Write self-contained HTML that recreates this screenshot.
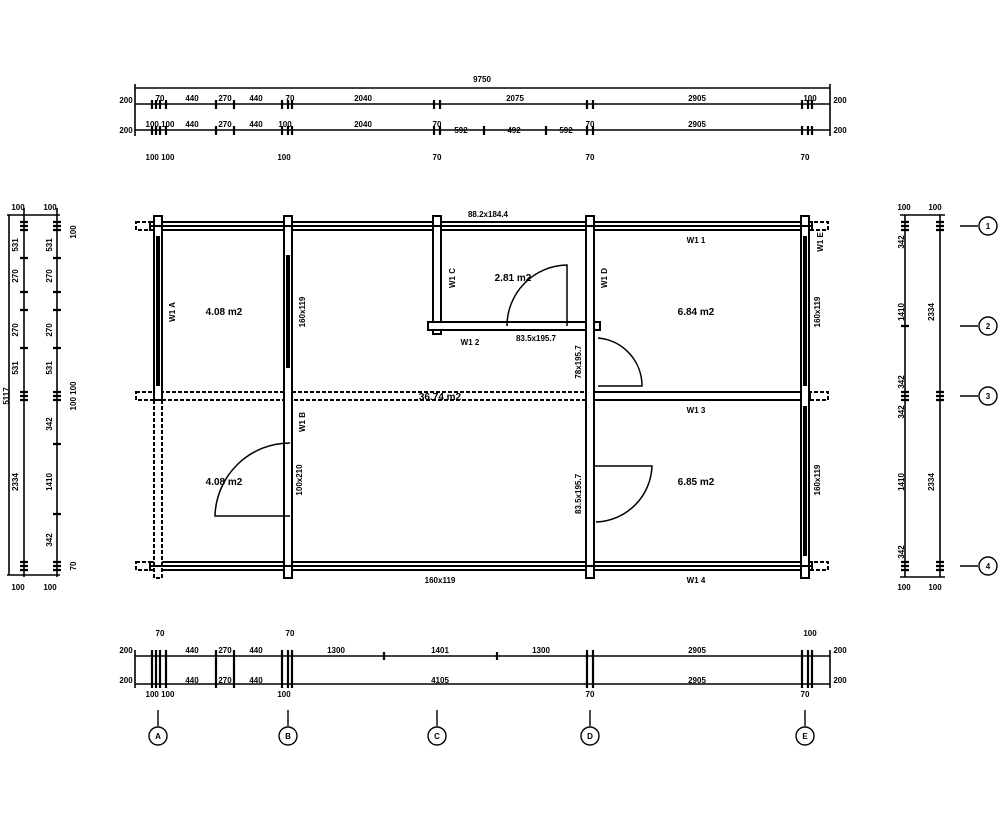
<!DOCTYPE html>
<html><head><style>body{margin:0;background:#fff}svg{display:block}</style></head><body>
<svg width="1000" height="833" viewBox="0 0 1000 833" xmlns="http://www.w3.org/2000/svg" font-family="Liberation Sans, sans-serif" font-size="8" font-weight="bold" fill="#000">
<g stroke="#000" stroke-width="1.6" fill="none">
<line x1="135" y1="88" x2="830" y2="88"/>
<line x1="135" y1="104" x2="830" y2="104"/>
<line x1="135" y1="130" x2="830" y2="130"/>
<line x1="135" y1="84" x2="135" y2="136"/><line x1="830" y1="84" x2="830" y2="136"/>
<line x1="135" y1="656" x2="830" y2="656"/>
<line x1="135" y1="684" x2="830" y2="684"/>
<line x1="135" y1="650" x2="135" y2="688"/><line x1="830" y1="650" x2="830" y2="688"/>
<line x1="9" y1="215" x2="9" y2="575"/>
<line x1="24" y1="208" x2="24" y2="577"/>
<line x1="57" y1="208" x2="57" y2="577"/>
<line x1="7" y1="215" x2="60" y2="215"/><line x1="7" y1="575" x2="60" y2="575"/>
<line x1="905" y1="215" x2="905" y2="577"/>
<line x1="940" y1="215" x2="940" y2="577"/>
<line x1="900" y1="215" x2="945" y2="215"/><line x1="900" y1="577" x2="945" y2="577"/>
</g>
<g stroke="#000" stroke-width="2.2">
<path d="M152 100v9M156 100v9M160 100v9M166 100v9M216 100v9M234 100v9M282 100v9M288 100v9M292 100v9M434 100v9M440 100v9M587 100v9M593 100v9M802 100v9M808 100v9M812 100v9"/>
<path d="M152 126v9M156 126v9M160 126v9M166 126v9M216 126v9M234 126v9M282 126v9M288 126v9M292 126v9M434 126v9M440 126v9M484 126v9M546 126v9M587 126v9M593 126v9M802 126v9M808 126v9M812 126v9"/>
<path d="M152 650v38M156 650v38M160 650v38M166 650v38M216 650v38M234 650v38M282 650v38M288 650v38M292 650v38M384 652v8M497 652v8M587 650v38M593 650v38M802 650v38M808 650v38M812 650v38"/>
<path d="M20 222h8M20 226h8M20 230h8M53 222h8M53 226h8M53 230h8M20 258h8M53 258h8M20 292h8M53 292h8M20 310h8M53 310h8M20 348h8M53 348h8M20 392h8M20 396h8M20 400h8M53 392h8M53 396h8M53 400h8M53 444h8M53 514h8M20 562h8M20 566h8M20 570h8M53 562h8M53 566h8M53 570h8"/>
<path d="M901 222h8M901 226h8M901 230h8M936 222h8M936 226h8M936 230h8M901 392h8M901 396h8M901 400h8M936 392h8M936 396h8M936 400h8M901 562h8M901 566h8M901 570h8M936 562h8M936 566h8M936 570h8M901 326h8"/>
</g>
<g stroke="#000" stroke-width="1.4" fill="none">
<line x1="158" y1="710" x2="158" y2="726"/><line x1="288" y1="710" x2="288" y2="726"/><line x1="437" y1="710" x2="437" y2="726"/><line x1="590" y1="710" x2="590" y2="726"/><line x1="805" y1="710" x2="805" y2="726"/>
<circle cx="158" cy="736" r="9"/><circle cx="288" cy="736" r="9"/><circle cx="437" cy="736" r="9"/><circle cx="590" cy="736" r="9"/><circle cx="805" cy="736" r="9"/>
<line x1="960" y1="226" x2="978" y2="226"/><line x1="960" y1="326" x2="978" y2="326"/><line x1="960" y1="396" x2="978" y2="396"/><line x1="960" y1="566" x2="978" y2="566"/>
<circle cx="988" cy="226" r="9"/><circle cx="988" cy="326" r="9"/><circle cx="988" cy="396" r="9"/><circle cx="988" cy="566" r="9"/>
</g>
<g stroke="#000" stroke-width="2" fill="#fff">
<rect x="136" y="222" width="692" height="8" stroke-dasharray="4 2"/>
<rect x="150" y="222" width="662" height="8"/>
<rect x="136" y="392" width="692" height="8" stroke-dasharray="4 2"/>
<rect x="588" y="392" width="222" height="8"/>
<rect x="136" y="562" width="692" height="8" stroke-dasharray="4 2"/>
<rect x="150" y="562" width="662" height="8"/>
<rect x="154" y="216" width="8" height="362" stroke-dasharray="4 2"/>
<rect x="154" y="216" width="8" height="184"/>
<rect x="284" y="216" width="8" height="362"/>
<rect x="433" y="216" width="8" height="118"/>
<rect x="428" y="322" width="172" height="8"/>
<rect x="586" y="216" width="8" height="362"/>
<rect x="801" y="216" width="8" height="362"/>
</g>
<rect x="286" y="255" width="4" height="113" fill="#000"/>
<rect x="156" y="236" width="4" height="150" fill="#000"/>
<rect x="803" y="236" width="4" height="150" fill="#000"/>
<rect x="803" y="406" width="4" height="150" fill="#000"/>
<rect x="150" y="225" width="662" height="2" fill="#000"/>
<rect x="150" y="565" width="662" height="2" fill="#000"/>
<g stroke="#000" stroke-width="1.5" fill="none">
<path d="M567 326V265A61 61 0 0 0 507 326"/>
<path d="M598 338A48 48 0 0 1 642 386H598"/>
<path d="M290 516H215A75 75 0 0 1 290 443"/>
<path d="M594 466H652A58 58 0 0 1 596 522"/>
</g>
<g text-anchor="middle">
<text x="482" y="82">9750</text>
<text x="160" y="101">70</text><text x="192" y="101">440</text><text x="225" y="101">270</text><text x="256" y="101">440</text><text x="290" y="101">70</text><text x="363" y="101">2040</text><text x="515" y="101">2075</text><text x="697" y="101">2905</text><text x="810" y="101">100</text>
<text x="160" y="127">100 100</text><text x="192" y="127">440</text><text x="225" y="127">270</text><text x="256" y="127">440</text><text x="285" y="127">100</text><text x="363" y="127">2040</text><text x="437" y="127">70</text><text x="461" y="133">592</text><text x="514" y="133">492</text><text x="566" y="133">592</text><text x="590" y="127">70</text><text x="697" y="127">2905</text>
<text x="160" y="160">100 100</text><text x="284" y="160">100</text><text x="437" y="160">70</text><text x="590" y="160">70</text><text x="805" y="160">70</text>
<text x="126" y="103">200</text><text x="126" y="133">200</text><text x="840" y="103">200</text><text x="840" y="133">200</text>
<text x="126" y="653">200</text><text x="126" y="683">200</text><text x="840" y="653">200</text><text x="840" y="683">200</text>
<text x="160" y="636">70</text><text x="192" y="653">440</text><text x="225" y="653">270</text><text x="256" y="653">440</text><text x="290" y="636">70</text><text x="336" y="653">1300</text><text x="440" y="653">1401</text><text x="541" y="653">1300</text><text x="697" y="653">2905</text><text x="810" y="636">100</text>
<text x="192" y="683">440</text><text x="225" y="683">270</text><text x="256" y="683">440</text><text x="440" y="683">4105</text><text x="697" y="683">2905</text>
<text x="160" y="697">100 100</text><text x="284" y="697">100</text><text x="590" y="697">70</text><text x="805" y="697">70</text>
<text x="158" y="739">A</text><text x="288" y="739">B</text><text x="437" y="739">C</text><text x="590" y="739">D</text><text x="805" y="739">E</text>
<text x="988" y="229">1</text><text x="988" y="329">2</text><text x="988" y="399">3</text><text x="988" y="569">4</text>
<text x="18" y="210">100</text><text x="50" y="210">100</text><text x="18" y="590">100</text><text x="50" y="590">100</text>
<text x="904" y="210">100</text><text x="935" y="210">100</text><text x="904" y="590">100</text><text x="935" y="590">100</text>
</g>
<g font-size="10" text-anchor="middle">
<text x="224" y="315">4.08 m2</text>
<text x="513" y="281">2.81 m2</text>
<text x="696" y="315">6.84 m2</text>
<text x="440" y="400">36.74 m2</text>
<text x="224" y="485">4.08 m2</text>
<text x="696" y="485">6.85 m2</text>
</g>
<g font-size="8" text-anchor="middle">
<text x="488" y="217">88.2x184.4</text>
<text x="536" y="341">83.5x195.7</text>
<text x="470" y="345">W1 2</text>
<text x="696" y="243">W1 1</text>
<text x="696" y="413">W1 3</text>
<text x="696" y="583">W1 4</text>
<text x="440" y="583">160x119</text>
<text transform="translate(175,312) rotate(-90)">W1 A</text>
<text transform="translate(305,312) rotate(-90)">160x119</text>
<text transform="translate(455,278) rotate(-90)">W1 C</text>
<text transform="translate(607,278) rotate(-90)">W1 D</text>
<text transform="translate(823,242) rotate(-90)">W1 E</text>
<text transform="translate(820,312) rotate(-90)">160x119</text>
<text transform="translate(820,480) rotate(-90)">160x119</text>
<text transform="translate(305,422) rotate(-90)">W1 B</text>
<text transform="translate(302,480) rotate(-90)">100x210</text>
<text transform="translate(581,362) rotate(-90)">78x195.7</text>
<text transform="translate(581,494) rotate(-90)">83.5x195.7</text>
<text transform="translate(9,396) rotate(-90)">5117</text>
<text transform="translate(18,482) rotate(-90)">2334</text>
<text transform="translate(934,312) rotate(-90)">2334</text>
<text transform="translate(934,482) rotate(-90)">2334</text>
<text transform="translate(904,312) rotate(-90)">1410</text>
<text transform="translate(904,482) rotate(-90)">1410</text>
<text transform="translate(52,482) rotate(-90)">1410</text>
<text transform="translate(18,276) rotate(-90)">270</text><text transform="translate(52,276) rotate(-90)">270</text>
<text transform="translate(18,330) rotate(-90)">270</text><text transform="translate(52,330) rotate(-90)">270</text>
<text transform="translate(18,245) rotate(-90)">531</text><text transform="translate(52,245) rotate(-90)">531</text>
<text transform="translate(18,368) rotate(-90)">531</text><text transform="translate(52,368) rotate(-90)">531</text>
<text transform="translate(52,424) rotate(-90)">342</text><text transform="translate(52,540) rotate(-90)">342</text>
<text transform="translate(904,242) rotate(-90)">342</text><text transform="translate(904,382) rotate(-90)">342</text>
<text transform="translate(904,412) rotate(-90)">342</text><text transform="translate(904,552) rotate(-90)">342</text>
<text transform="translate(76,232) rotate(-90)">100</text><text transform="translate(76,396) rotate(-90)">100 100</text><text transform="translate(76,566) rotate(-90)">70</text>
</g>
</svg>
</body></html>
